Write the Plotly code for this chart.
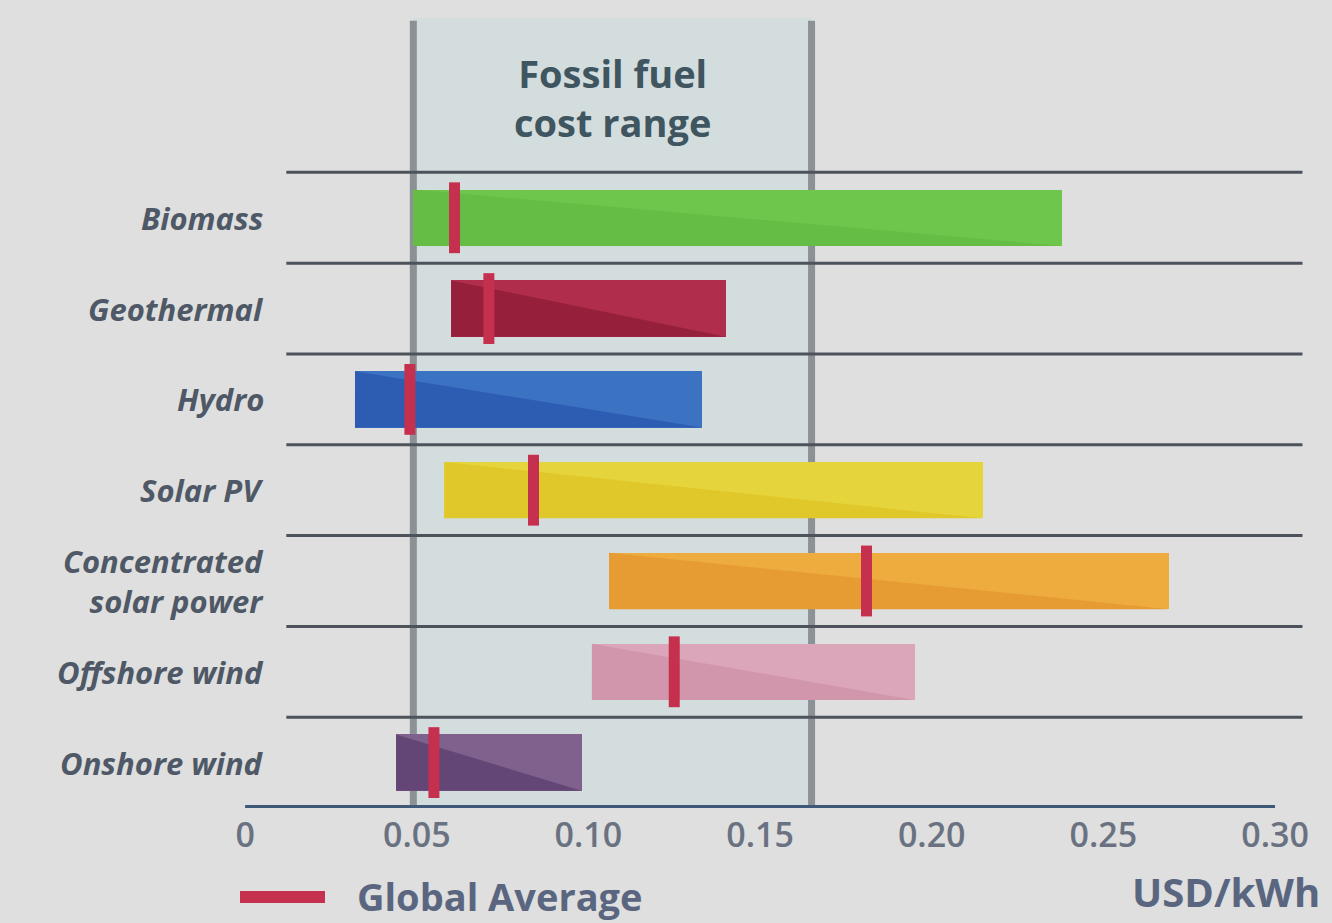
import plotly.graph_objects as go

categories = ["Biomass", "Geothermal", "Hydro", "Solar PV",
              "Concentrated<br>solar power", "Offshore wind", "Onshore wind"]
cost_low = [0.049, 0.060, 0.032, 0.058, 0.106, 0.101, 0.044]
cost_high = [0.238, 0.140, 0.133, 0.215, 0.269, 0.195, 0.098]
global_avg = [0.061, 0.071, 0.048, 0.084, 0.181, 0.125, 0.055]
fossil_range = [0.049, 0.165]
tick_vals = [0, 0.05, 0.10, 0.15, 0.20, 0.25, 0.30]
tick_text = ["0", "0.05", "0.10", "0.15", "0.20", "0.25", "0.30"]

light_cols = ["#6fc64c", "#b02e4c", "#3c72c2", "#e6d43c", "#eeab3e", "#dba6ba", "#80608c"]
dark_cols = ["#66bd45", "#96203c", "#2d5db2", "#e0c82a", "#e69c32", "#d296ac", "#644676"]

FONT = "Open Sans"
ys = list(range(len(categories)))
BAR_H = 0.62
Y_TOP = -2.2
Y_BOT = 6.5
PLOT_T, PLOT_B = 18, 115
PLOT_H = 923 - PLOT_T - PLOT_B


def paper_y(px):
    return (923 - PLOT_B - px) / PLOT_H


fig = go.Figure()

# fossil fuel band
fig.add_shape(type="rect", xref="x", yref="y", x0=fossil_range[0], x1=fossil_range[1],
              y0=Y_TOP, y1=Y_BOT, fillcolor="#d3dddd", line_width=0, layer="below")
for fx in fossil_range:
    fig.add_shape(type="line", xref="x", yref="y", x0=fx, x1=fx, y0=Y_TOP + 0.03, y1=Y_BOT,
                  line=dict(color="#8b9194", width=7), layer="below")

# separators
for i in range(len(categories)):
    fig.add_trace(go.Scatter(x=[0.012, 0.308], y=[i - 0.5, i - 0.5], mode="lines",
                             line=dict(color="#4c535b", width=3), hoverinfo="skip",
                             showlegend=False))

# bars (light base)
fig.add_trace(go.Bar(y=ys, x=[h - l for l, h in zip(cost_low, cost_high)], base=cost_low,
                     orientation="h", width=BAR_H, marker=dict(color=light_cols, line_width=0),
                     showlegend=False, hoverinfo="skip"))
# darker lower-left triangles
for i, (l, h) in enumerate(zip(cost_low, cost_high)):
    fig.add_trace(go.Scatter(x=[l, l, h, l], y=[i - BAR_H / 2, i + BAR_H / 2, i + BAR_H / 2, i - BAR_H / 2],
                             mode="lines", fill="toself", fillcolor=dark_cols[i],
                             line=dict(width=0, color=dark_cols[i]), hoverinfo="skip",
                             showlegend=False))

# global averages
ax, ay = [], []
for i, a in enumerate(global_avg):
    ax += [a, a, None]
    ay += [i - 0.39, i + 0.39, None]
fig.add_trace(go.Scatter(x=ax, y=ay, mode="lines", line=dict(color="#c5304f", width=11),
                         showlegend=False, hoverinfo="skip"))

# bottom axis line
fig.add_trace(go.Scatter(x=[tick_vals[0], tick_vals[-1]], y=[Y_BOT, Y_BOT], mode="lines",
                         line=dict(color="#3e5878", width=6), showlegend=False, hoverinfo="skip"))

# category labels
for i, c in enumerate(categories):
    fig.add_annotation(x=0.006, y=i, xref="x", yref="y", text="<b><i>" + c + "</i></b>",
                       showarrow=False, xanchor="right", yanchor="middle", align="right",
                       font=dict(family=FONT, size=31, color="#4f5866"))

# band title
fig.add_annotation(x=sum(fossil_range) / 2, y=-1.33, xref="x", yref="y",
                   text="<b>Fossil fuel<br>cost range</b>", showarrow=False,
                   font=dict(family=FONT, size=38, color="#3f5660"), align="center")

# legend
fig.add_shape(type="line", xref="paper", yref="paper", x0=240 / 1332, x1=325 / 1332,
              y0=paper_y(897), y1=paper_y(897), line=dict(color="#c5304f", width=12))
fig.add_annotation(x=355 / 1332, y=paper_y(896), xref="paper", yref="paper",
                   text="<b>Global Average</b>", showarrow=False, xanchor="left",
                   yanchor="middle", font=dict(family=FONT, size=38, color="#5a6680"))
fig.add_annotation(x=1322 / 1332, y=paper_y(892), xref="paper", yref="paper",
                   text="<b>USD/kWh</b>", showarrow=False, xanchor="right",
                   yanchor="middle", font=dict(family=FONT, size=40, color="#5a6680"))

fig.update_layout(
    width=1332, height=923,
    margin=dict(l=0, r=0, t=PLOT_T, b=PLOT_B),
    paper_bgcolor="#dedfde", plot_bgcolor="rgba(0,0,0,0)",
    bargap=0, showlegend=False,
    xaxis=dict(range=[-0.0714, 0.3166], tickvals=tick_vals, ticktext=tick_text,
               showgrid=False, zeroline=False, showline=False, ticks="",
               ticklabelstandoff=4,
               tickfont=dict(family=FONT, size=34, color="#6a7282", weight=600)),
    yaxis=dict(range=[Y_BOT, Y_TOP], showgrid=False, zeroline=False, showticklabels=False,
               showline=False),
)

fig.write_html("out.html", post_script="document.body.style.margin='0';",
               config={"displayModeBar": False})
